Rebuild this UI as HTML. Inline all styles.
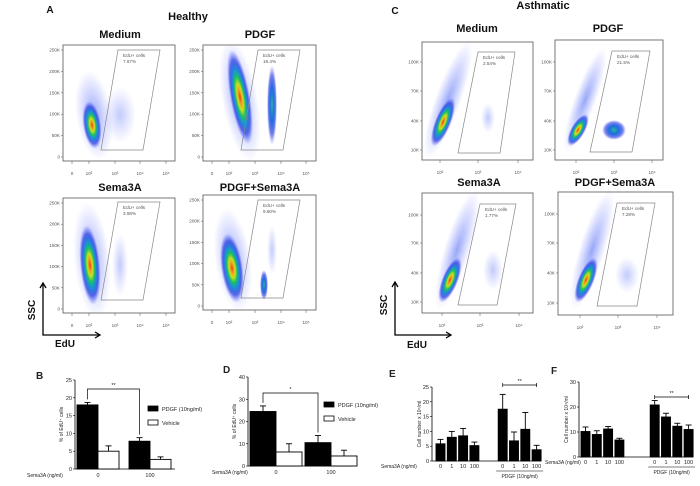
<!DOCTYPE html>
<html><head><meta charset="utf-8">
<style>
html,body{margin:0;padding:0;background:#fff;}
svg{display:block;font-family:"Liberation Sans",Arial,sans-serif;}
.t{font-weight:bold;font-size:11px;text-anchor:middle;fill:#111;}
.tk{font-size:4.6px;fill:#555;}
.bl{font-size:5.5px;fill:#222;}
</style></head>
<body>
<svg id="fig" width="700" height="486" viewBox="0 0 700 486">
<defs>
<radialGradient id="dens" cx="50%" cy="50%" r="50%">
<stop offset="0" stop-color="#e8401a"/>
<stop offset="0.15" stop-color="#f0a020"/>
<stop offset="0.28" stop-color="#c8e020"/>
<stop offset="0.42" stop-color="#20c060"/>
<stop offset="0.58" stop-color="#1890d8"/>
<stop offset="0.78" stop-color="#2030e0" stop-opacity="0.7"/>
<stop offset="1" stop-color="#4050ff" stop-opacity="0"/>
</radialGradient>
<radialGradient id="dens2" cx="50%" cy="50%" r="50%">
<stop offset="0" stop-color="#30b0a0"/>
<stop offset="0.4" stop-color="#1870e0"/>
<stop offset="0.75" stop-color="#2030e0" stop-opacity="0.6"/>
<stop offset="1" stop-color="#4050ff" stop-opacity="0"/>
</radialGradient>
<radialGradient id="dens3" cx="50%" cy="50%" r="50%">
<stop offset="0" stop-color="#3050f0" stop-opacity="0.5"/>
<stop offset="1" stop-color="#5060ff" stop-opacity="0"/>
</radialGradient>
<radialGradient id="dens4" cx="50%" cy="50%" r="50%">
<stop offset="0" stop-color="#3050f0" stop-opacity="0.3"/>
<stop offset="1" stop-color="#5060ff" stop-opacity="0"/>
</radialGradient>
</defs>
<g id="flow"></g>
<g id="bars"></g>
</svg>
<script>
const NS="http://www.w3.org/2000/svg";
function el(tag,attrs,parent,txt){const e=document.createElementNS(NS,tag);for(const k in attrs)e.setAttribute(k,attrs[k]);if(txt!==undefined)e.textContent=txt;parent.appendChild(e);return e;}
const flow=document.getElementById('flow');
const bars=document.getElementById('bars');

function label(x,y,txt,cls,name,extra){const t=el('text',Object.assign({x:x,y:y,class:cls},extra||{}),flow,txt);return t;}
label(50,13,'A','t','panel-label-a',{style:'font-size:10px'});
label(188,20,'Healthy','t','healthy-title');
label(395,14,'C','t','panel-label-c',{style:'font-size:10px'});
label(543,9,'Asthmatic','t','asthmatic-title');

const flowPanels=[
 {name:'healthy-medium',title:'Medium',tx:120,ty:38,x0:63,y0:45,x1:175,y1:161,yt:['250K','200K','150K','100K','50K','0'],xt:['0','10²','10³','10⁴','10⁵'],xtx:[72,89,115,140,166],gate:[[118,50],[160,50],[143,150],[101,150]],pct:'7.67%',
  blobs:[[94,115,18,45,-8,'dens3'],[92,125,9,24,-8,'dens'],[120,115,16,28,0,'dens4']]},
 {name:'healthy-pdgf',title:'PDGF',tx:260,ty:38,x0:203,y0:45,x1:316,y1:161,yt:['250K','200K','150K','100K','50K','0'],xt:['0','10²','10³','10⁴','10⁵'],xtx:[212,229,255,281,306],gate:[[258,50],[300,50],[283,150],[241,150]],pct:'19.4%',
  blobs:[[240,100,18,62,-10,'dens3'],[240,97,10,48,-10,'dens'],[272,105,5,40,0,'dens2']]},
 {name:'healthy-sema3a',title:'Sema3A',tx:120,ty:191,x0:63,y0:198,x1:175,y1:313,yt:['250K','200K','150K','100K','50K','0'],xt:['0','10²','10³','10⁴','10⁵'],xtx:[72,89,115,140,166],gate:[[118,202],[160,202],[143,300],[101,300]],pct:'3.98%',
  blobs:[[92,260,18,58,-5,'dens3'],[90,265,10,40,-5,'dens'],[120,265,8,32,0,'dens4']]},
 {name:'healthy-pdgf-sema3a',title:'PDGF+Sema3A',tx:260,ty:191,x0:203,y0:195,x1:316,y1:310,yt:['250K','200K','150K','100K','50K','0'],xt:['0','10²','10³','10⁴','10⁵'],xtx:[212,229,255,281,306],gate:[[258,200],[300,200],[283,298],[241,298]],pct:'9.60%',
  blobs:[[233,260,18,52,-8,'dens3'],[232,268,11,35,-8,'dens'],[264,285,4,15,0,'dens2'],[272,250,5,25,0,'dens4']]},
 {name:'asthmatic-medium',title:'Medium',tx:477,ty:32,x0:422,y0:42,x1:533,y1:160,yt:['100K','70K','40K','10K'],ytY:[62,91,121,150],xt:['10²','10³','10⁴'],xtx:[440,478,518],gate:[[478,52],[515,52],[500,153],[458,153]],pct:'2.54%',
  blobs:[[448,100,13,62,20,'dens3'],[443,122,8,26,22,'dens'],[488,118,7,15,0,'dens4']]},
 {name:'asthmatic-pdgf',title:'PDGF',tx:608,ty:32,x0:555,y0:40,x1:663,y1:160,yt:['100K','70K','40K','10K'],ytY:[62,91,121,150],xt:['10²','10³','10⁴'],xtx:[576,614,652],gate:[[612,51],[650,51],[632,152],[590,152]],pct:'21.5%',
  blobs:[[585,100,11,55,20,'dens3'],[578,130,7,18,30,'dens'],[614,130,12,10,0,'dens2']]},
 {name:'asthmatic-sema3a',title:'Sema3A',tx:479,ty:186,x0:422,y0:193,x1:533,y1:313,yt:['100K','70K','40K','10K'],ytY:[215,243,273,302],xt:['10²','10³','10⁴'],xtx:[442,480,519],gate:[[480,204],[516,204],[497,305],[458,305]],pct:'1.77%',
  blobs:[[457,250,13,62,17,'dens3'],[450,280,8,24,22,'dens'],[493,270,10,20,0,'dens4']]},
 {name:'asthmatic-pdgf-sema3a',title:'PDGF+Sema3A',tx:615,ty:186,x0:558,y0:192,x1:673,y1:315,yt:['100K','70K','40K','10K'],ytY:[214,243,273,303],xt:['10²','10³','10⁴'],xtx:[580,618,657],gate:[[617,203],[655,203],[637,306],[597,306]],pct:'7.28%',
  blobs:[[592,250,13,62,17,'dens3'],[586,280,8,24,22,'dens'],[627,275,12,18,0,'dens4']]}
];
flowPanels.forEach(p=>{
 const g=el('g',{},flow);
 
 
 const tt=el('text',{x:p.tx,y:p.ty,class:'t'},g,p.title);
 
 
 const clip='c'+p.name;
 const cp=el('clipPath',{id:clip},g);el('rect',{x:p.x0,y:p.y0,width:p.x1-p.x0,height:p.y1-p.y0},cp);
 const bg=el('g',{'clip-path':'url(#'+clip+')'},g);
 p.blobs.forEach(b=>{const e=el('ellipse',{cx:b[0],cy:b[1],rx:b[2],ry:b[3],fill:'url(#'+b[5]+')',transform:'rotate('+b[4]+' '+b[0]+' '+b[1]+')'},bg);});
 const box=el('rect',{x:p.x0,y:p.y0,width:p.x1-p.x0,height:p.y1-p.y0,fill:'none',stroke:'#555','stroke-width':0.8},g);
 
 const gate=el('polygon',{points:p.gate.map(q=>q.join(',')).join(' '),fill:'none',stroke:'#888','stroke-width':0.7},g);
 
 const gx=p.gate[0][0]+5,gy=p.gate[0][1]+7;
 const l1=el('text',{x:gx,y:gy,class:'tk'},g,'EdU+ cells');
 const l2=el('text',{x:gx,y:gy+6,class:'tk'},g,p.pct);
 p.yt.forEach((t,i)=>{const y=p.ytY?p.ytY[i]:p.y0+5+i*(p.y1-p.y0-9)/(p.yt.length-1);
  const tx=el('text',{x:p.x0-3,y:y+1.5,class:'tk','text-anchor':'end'},g,t);
  el('line',{x1:p.x0-2,x2:p.x0,y1:y,y2:y,stroke:'#555','stroke-width':0.5},g);});
 p.xt.forEach((t,i)=>{const tx=el('text',{x:p.xtx[i],y:p.y1+14,class:'tk','text-anchor':'middle'},g,t);
  el('line',{x1:p.xtx[i],x2:p.xtx[i],y1:p.y1,y2:p.y1+3,stroke:'#555','stroke-width':0.5},g);});
});
[[43,283,335,100,35,310,65,347],[395,282,335,451,387,305,417,348]].forEach((a,i)=>{
 const g=el('g',{},flow);
 el('polyline',{points:a[0]+','+a[1]+' '+a[0]+','+a[2]+' '+a[3]+','+a[2],fill:'none',stroke:'#000','stroke-width':1.3},g);
 el('polyline',{points:(a[0]-3)+','+(a[1]+5)+' '+a[0]+','+a[1]+' '+(a[0]+3)+','+(a[1]+5),fill:'none',stroke:'#000','stroke-width':1.3},g);
 el('polyline',{points:(a[3]-5)+','+(a[2]-3)+' '+a[3]+','+a[2]+' '+(a[3]-5)+','+(a[2]+3),fill:'none',stroke:'#000','stroke-width':1.3},g);
 const s=el('text',{x:a[4],y:a[5],class:'t',transform:'rotate(-90 '+a[4]+' '+a[5]+')',style:'font-size:10px'},g,'SSC');
 const e=el('text',{x:a[6],y:a[7],class:'t',style:'font-size:10px'},g,'EdU');
});

// ---------- bar chart data ----------
const bGroups=['0','100'];
const bPdgf=[18,7.8];const bPdgfErr=[0.7,1.0];
const bVehicle=[5,2.7];const bVehicleErr=[1.5,0.7];
const bTicks=[0,5,10,15,20,25];
const dGroups=['0','100'];
const dPdgf=[24.5,10.5];const dPdgfErr=[2.5,3.2];
const dVehicle=[6.3,4.5];const dVehicleErr=[3.7,2.6];
const dTicks=[0,10,20,30,40];
const eCats=['0','1','10','100','0','1','10','100'];
const eVals=[5.8,8,8.5,5.2,17.5,6.8,10.7,3.8];
const eErr=[1.5,2,2.5,1.2,5,3,5.7,1.5];
const eTicks=[0,5,10,15,20,25];
const fCats=['0','1','10','100','0','1','10','100'];
const fVals=[10.2,9,11.2,6.8,20.8,16,12.3,11];
const fErr=[1.8,1.5,1,0.7,1.8,1.5,1.2,1.8];
const fTicks=[0,10,20,30];

function txt(parent,x,y,s,name,extra){const t=el('text',Object.assign({x:x,y:y,class:'bl'},extra||{}),parent,s);return t;}
function axis(g,ax,yTop,yBot,ticks,ylab,labx){
 const max=ticks[ticks.length-1];const ys=v=>yBot-(v/max)*(yBot-yTop);
 el('line',{x1:ax,x2:ax,y1:yTop,y2:yBot,stroke:'#000','stroke-width':0.8},g);
 ticks.forEach(t=>{el('line',{x1:ax-2,x2:ax,y1:ys(t),y2:ys(t),stroke:'#000','stroke-width':0.6},g);txt(g,ax-3,ys(t)+2,String(t),'y-tick-label',{'text-anchor':'end'});});
 txt(g,labx,(yTop+yBot)/2,ylab,'y-axis-title',{'text-anchor':'middle',transform:'rotate(-90 '+labx+' '+(yTop+yBot)/2+')',style:'font-size:5px'});
 return ys;
}
function bar(g,x,w,ys,v,err,fill,name,y0){
 const r=el('rect',{x:x,y:ys(v),width:w,height:y0-ys(v),fill:fill,stroke:'#000','stroke-width':0.9},g);
 
 const cx=x+w/2,ye=ys(v+err);
 el('line',{x1:cx,x2:cx,y1:ys(v),y2:ye,stroke:'#000','stroke-width':0.9},g);
 el('line',{x1:cx-3,x2:cx+3,y1:ye,y2:ye,stroke:'#000','stroke-width':0.9},g);
}
function bracket(g,x1,x2,y,yb1,yb2,s){
 el('polyline',{points:x1+','+yb1+' '+x1+','+y+' '+x2+','+y+' '+x2+','+yb2,fill:'none',stroke:'#000','stroke-width':0.7},g);
 txt(g,(x1+x2)/2,y-2,s,'significance-marker',{'text-anchor':'middle'});
}
function groupedChart(cfg){
 const g=el('g',{},bars);
 txt(g,cfg.lx,cfg.ly,cfg.letter,'panel-label',{style:'font-size:10px;font-weight:bold'});
 const ys=axis(g,cfg.ax,cfg.yTop,cfg.yBot,cfg.ticks,'% of EdU⁺ cells',cfg.ax-12);
 el('line',{x1:cfg.ax,x2:cfg.ax+cfg.width,y1:cfg.yBot,y2:cfg.yBot,stroke:'#000','stroke-width':0.8},g);
 cfg.groups.forEach((gr,i)=>{const gx=cfg.ax+2+i*cfg.gstep;
  bar(g,gx,cfg.bw,ys,cfg.pdgf[i],cfg.pdgfErr[i],'#000','bar-pdgf-'+gr,cfg.yBot);
  bar(g,gx+cfg.bw,cfg.bw,ys,cfg.veh[i],cfg.vehErr[i],'#fff','bar-vehicle-'+gr,cfg.yBot);
  txt(g,gx+cfg.bw,cfg.yBot+8,gr,'x-tick-label',{'text-anchor':'middle'});});
 const c0=cfg.ax+2+cfg.bw/2,c1=cfg.ax+2+cfg.gstep+cfg.bw/2;
 bracket(g,c0,c1,cfg.brY,ys(cfg.pdgf[0]+cfg.pdgfErr[0])-3,ys(cfg.pdgf[1]+cfg.pdgfErr[1])-3,cfg.sig);
 const lg=el('g',{},g);
 el('rect',{x:cfg.legx,y:cfg.legy-4,width:10,height:5,fill:'#000',stroke:'#000','stroke-width':0.8},lg);
 txt(lg,cfg.legx+14,cfg.legy+1,'PDGF (10ng/ml)','legend-entry-pdgf');
 el('rect',{x:cfg.legx,y:cfg.legy+10,width:10,height:5,fill:'#fff',stroke:'#000','stroke-width':0.8},lg);
 txt(lg,cfg.legx+14,cfg.legy+15,'Vehicle','legend-entry-vehicle');
 txt(g,cfg.semx,cfg.yBot+8,'Sema3A  (ng/ml)','x-axis-title',{style:'font-size:5px'});
}
groupedChart({name:'chart-b',letter:'B',lx:36,ly:379,ax:75,yTop:380,yBot:469,ticks:bTicks,groups:bGroups,pdgf:bPdgf,pdgfErr:bPdgfErr,veh:bVehicle,vehErr:bVehicleErr,bw:21,gstep:52,width:100,brY:389,sig:'**',legx:148,legy:410,semx:27});
groupedChart({name:'chart-d',letter:'D',lx:223,ly:373,ax:248,yTop:377,yBot:466,ticks:dTicks,groups:dGroups,pdgf:dPdgf,pdgfErr:dPdgfErr,veh:dVehicle,vehErr:dVehicleErr,bw:26,gstep:55,width:105,brY:393,sig:'*',legx:324,legy:406,semx:212});

function countChart(cfg){
 const g=el('g',{},bars);
 txt(g,cfg.lx,cfg.ly,cfg.letter,'panel-label',{style:'font-size:10px;font-weight:bold'});
 const ys=axis(g,cfg.ax,cfg.yTop,cfg.yBot,cfg.ticks,'Cell number x 10⁴/ml',cfg.ax-11);
 el('line',{x1:cfg.ax,x2:cfg.ax+cfg.width,y1:cfg.yBot,y2:cfg.yBot,stroke:'#000','stroke-width':0.8},g);
 const xs=i=>cfg.ax+cfg.off+i*cfg.step+(i>=4?cfg.gap:0);
 cfg.cats.forEach((c,i)=>{bar(g,xs(i),cfg.bw,ys,cfg.vals[i],cfg.err[i],'#000','bar-'+(i>=4?'pdgf-':'')+c,cfg.yBot);
  txt(g,xs(i)+cfg.bw/2,cfg.yBot+7,c,'x-tick-label',{'text-anchor':'middle'});});
 const b0=xs(4)+cfg.bw/2,b1=xs(7)+cfg.bw/2;
 el('line',{x1:b0,x2:b1,y1:cfg.brY,y2:cfg.brY,stroke:'#000','stroke-width':0.7},g);
 el('line',{x1:b0,x2:b0,y1:cfg.brY-2,y2:cfg.brY+2,stroke:'#000','stroke-width':0.7},g);
 el('line',{x1:b1,x2:b1,y1:cfg.brY-2,y2:cfg.brY+2,stroke:'#000','stroke-width':0.7},g);
 txt(g,(b0+b1)/2,cfg.brY-2,'**','significance-marker',{'text-anchor':'middle'});
 el('line',{x1:xs(4)-2,x2:xs(7)+cfg.bw+2,y1:cfg.yBot+10,y2:cfg.yBot+10,stroke:'#000','stroke-width':0.6},g);
 txt(g,(xs(4)+xs(7)+cfg.bw)/2,cfg.yBot+17,'PDGF (10ng/ml)','pdgf-group-label',{'text-anchor':'middle',style:'font-size:5px'});
 txt(g,cfg.semx,cfg.yBot+7,'Sema3A (ng/ml)','x-axis-title',{style:'font-size:5px'});
}
countChart({name:'chart-e',letter:'E',lx:389,ly:377,ax:432,yTop:387,yBot:461,ticks:eTicks,cats:eCats,vals:eVals,err:eErr,off:4,step:11.3,gap:17,bw:9,width:100,brY:385,semx:381});
countChart({name:'chart-f',letter:'F',lx:551,ly:374,ax:579,yTop:382,yBot:457,ticks:fTicks,cats:fCats,vals:fVals,err:fErr,off:2,step:11.3,gap:24,bw:9,width:107,brY:397,semx:545});
</script>
</body></html>
